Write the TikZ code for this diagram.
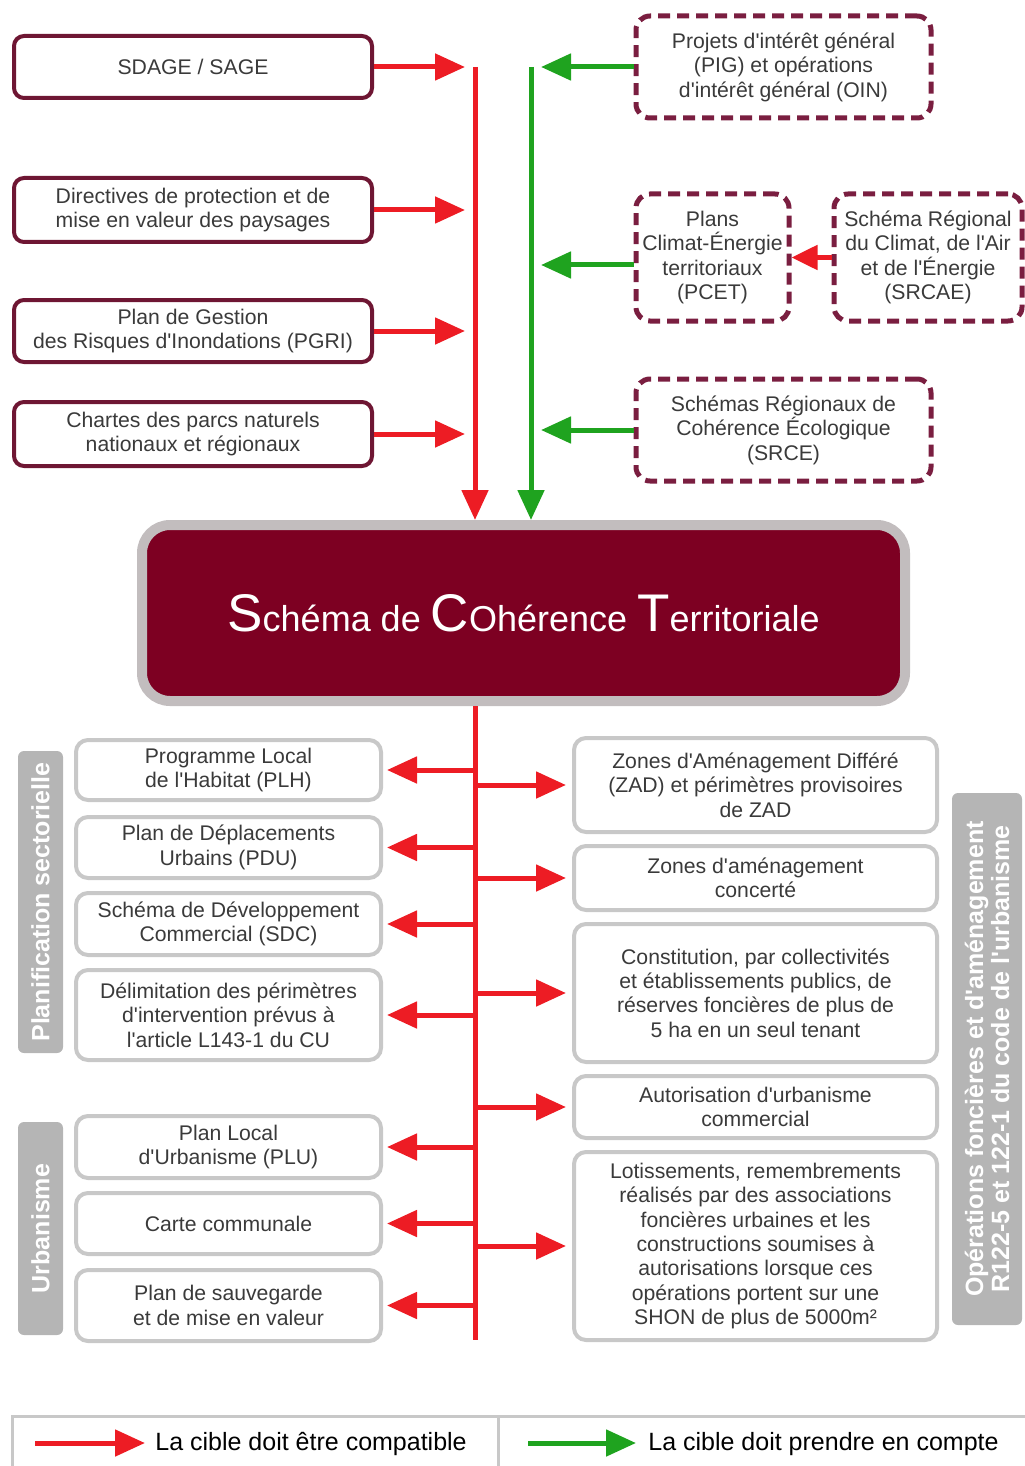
\documentclass[tikz,border=0pt]{standalone}
\usepackage{fontspec}
\setmainfont{Liberation Sans}[Ligatures=TeXOff]
\usetikzlibrary{arrows.meta}
\definecolor{cred}{HTML}{ED1C24}
\definecolor{cgreen}{HTML}{1FA31F}
\definecolor{cmaroon}{HTML}{6E1633}
\definecolor{cdash}{HTML}{7A1E40}
\definecolor{cscot}{HTML}{7D0022}
\definecolor{crim}{HTML}{C2BDBE}
\definecolor{cgrey}{HTML}{C8C8C8}
\definecolor{clabel}{HTML}{B5B5B5}
\definecolor{ctext}{HTML}{3A3A3A}
\newcommand\tbig[1]{{\fontsize{26.5}{28}\selectfont #1}}
% box from pixel corners: style, name, x1, y1, x2, y2, text
\newcommand\bx[7]{%
  \pgfmathsetmacro\bxw{(#5-#3)*0.5}%
  \pgfmathsetmacro\bxh{(#6-#4)*0.5}%
  \node[#1, minimum width=\bxw pt, minimum height=\bxh pt] (#2) at ({(#3+#5)/2},{(#4+#6)/2}) {#7};}
\begin{document}
\begin{tikzpicture}[x=0.5pt,y=-0.5pt,
  txt/.style={font=\fontsize{10.6}{12.2}\selectfont, text=ctext, align=center, inner sep=0pt, anchor=center},
  mbox/.style={txt, draw=cmaroon, line width=2pt, rounded corners=5pt},
  dbox/.style={txt, draw=cdash, line width=2.5pt, dash pattern=on 6pt off 3.5pt, rounded corners=7pt},
  gbox/.style={txt, draw=cgrey, line width=2pt, rounded corners=6pt},
  side/.style={fill=clabel, rounded corners=3pt, inner sep=0pt},
  sidetxt/.style={rotate=90, text=white, font=\fontsize{12.5}{13}\selectfont\bfseries, align=center, inner sep=0pt},
  rline/.style={draw=cred, line width=2.5pt},
  gline/.style={draw=cgreen, line width=2.5pt},
  rarr/.style={rline, -{Triangle[length=15pt,width=13pt]}},
  garr/.style={gline, -{Triangle[length=15pt,width=13pt]}},
  legtxt/.style={font=\fontsize{12.5}{14}\selectfont, text=black, anchor=west, inner sep=0pt}
]
\useasboundingbox (0,0) rectangle (1024,1466);

% ---- top-left boxes
\bx{mbox}{sdage}{14}{36}{372}{98}{SDAGE / SAGE}
\bx{mbox}{dpmv}{14}{178}{372}{242}{Directives de protection et de\\mise en valeur des paysages}
\bx{mbox}{pgri}{14}{300}{372}{362}{Plan de Gestion\\des Risques d'Inondations (PGRI)}
\bx{mbox}{parcs}{14}{402}{372}{466}{Chartes des parcs naturels\\nationaux et régionaux}

% ---- top-right dashed boxes
\bx{dbox}{pig}{636}{16}{931}{118}{Projets d'intérêt général\\(PIG) et opérations\\d'intérêt général (OIN)}
\bx{dbox}{pcet}{636}{194}{789}{321}{Plans\\Climat-Énergie\\territoriaux\\(PCET)}
\bx{dbox}{srcae}{834}{194}{1022}{321}{Schéma Régional\\du Climat, de l'Air\\et de l'Énergie\\(SRCAE)}
\bx{dbox}{srce}{636}{379}{931}{481}{Schémas Régionaux de\\Cohérence Écologique\\(SRCE)}

% ---- central box
\bx{draw=crim, line width=5pt, fill=cscot, rounded corners=14pt, inner sep=0pt, text=white, font=\fontsize{18}{22}\selectfont}{scot}{142}{525}{905}{701}{\tbig{S}chéma de \tbig{C}Ohérence \tbig{T}erritoriale}

% ---- bus coordinates
\coordinate (rt) at (475,67);
\coordinate (gt) at (531,67);
\coordinate (rtip) at (465,0);
\coordinate (gtip) at (541,0);
\coordinate (rend) at (475,1340);
\coordinate (pcety) at (0,265);

% ---- top arrows
\draw[rarr] (rt) -- (rt |- scot.north);
\draw[garr] (gt) -- (gt |- scot.north);
\foreach \b in {sdage,dpmv,pgri,parcs}{
  \draw[rarr] (\b.east) -- (\b.east -| rtip);
}
\draw[garr] (pig.west) -- (pig.west -| gtip);
\draw[garr] (pcety -| pcet.west) -- (pcety -| gtip);
\draw[garr] (srce.west) -- (srce.west -| gtip);
\draw[rline, -{Triangle[length=13pt,width=12pt]}] (srcae.west) -- (pcet.east);

% ---- lower-left boxes
\bx{gbox}{plh}{76}{740}{381}{800}{Programme Local\\de l'Habitat (PLH)}
\bx{gbox}{pdu}{76}{817}{381}{878}{Plan de Déplacements\\Urbains (PDU)}
\bx{gbox}{sdc}{76}{893}{381}{955}{Schéma de Développement\\Commercial (SDC)}
\bx{gbox}{delim}{76}{970}{381}{1060}{Délimitation des périmètres\\d'intervention prévus à\\l'article L143-1 du CU}
\bx{gbox}{plu}{76}{1116}{381}{1178}{Plan Local\\d'Urbanisme (PLU)}
\bx{gbox}{carte}{76}{1193}{381}{1254}{Carte communale}
\bx{gbox}{psmv}{76}{1270}{381}{1341}{Plan de sauvegarde\\et de mise en valeur}

% ---- lower-right boxes
\bx{gbox}{zad}{574}{738}{937}{832}{Zones d'Aménagement Différé\\(ZAD) et périmètres provisoires\\de ZAD}
\bx{gbox}{zac}{574}{846}{937}{910}{Zones d'aménagement\\concerté}
\bx{gbox}{resf}{574}{924}{937}{1062}{Constitution, par collectivités\\et établissements publics, de\\réserves foncières de plus de\\5 ha en un seul tenant}
\bx{gbox}{auc}{574}{1076}{937}{1138}{Autorisation d'urbanisme\\commercial}
\bx{gbox}{lot}{574}{1152}{937}{1340}{Lotissements, remembrements\\réalisés par des associations\\foncières urbaines et les\\constructions soumises à\\autorisations lorsque ces\\opérations portent sur une\\SHON de plus de 5000m²}

% ---- lower bus and arrows
\draw[rline] (scot.south -| rt) -- (rend);
\foreach \b in {plh,pdu,sdc,delim,plu,carte,psmv}{
  \draw[rarr, shorten >=2pt] (\b.east -| rt) -- (\b.east);
}
\foreach \b in {zad,zac,resf,auc,lot}{
  \draw[rarr, shorten >=3pt] (\b.west -| rt) -- (\b.west);
}

% ---- side labels
\bx{side}{lps}{18}{751}{63}{1053}{}
\node[sidetxt] (lpstxt) at (lps.center) {Planification sectorielle};
\bx{side}{lurb}{18}{1122}{63}{1335}{}
\node[sidetxt] (lurbtxt) at (lurb.center) {Urbanisme};
\bx{side}{rops}{952}{793}{1022}{1325}{}
\node[sidetxt] (ropstxt) at (rops.center) {Opérations foncières et d'aménagement\\R122-5 et 122-1 du code de l'urbanisme};

% ---- legend
\bx{draw=cgrey, line width=1.5pt, inner sep=0pt}{leg1}{12}{1416}{498}{1472}{}
\bx{draw=cgrey, line width=1.5pt, inner sep=0pt}{leg2}{498}{1416}{1032}{1472}{}
\coordinate (la1) at (35,1443);
\coordinate (lb1) at (145,1443);
\coordinate (la2) at (528,1443);
\coordinate (lb2) at (636,1443);
\draw[rarr] (la1) -- (lb1);
\draw[garr] (la2) -- (lb2);
\node[legtxt] (lt1) at (155,1444) {La cible doit être compatible};
\node[legtxt] (lt2) at (648,1444) {La cible doit prendre en compte};
\end{tikzpicture}
\end{document}
